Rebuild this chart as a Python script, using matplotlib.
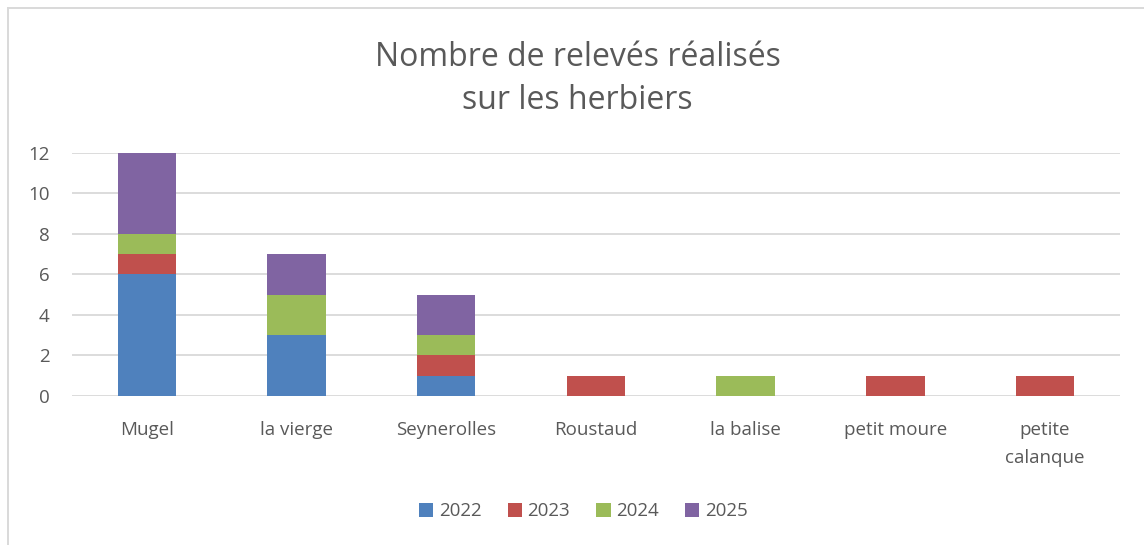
import numpy as np
import matplotlib.pyplot as plt

plt.rcParams['font.family'] = ['Open Sans', 'DejaVu Sans']

# data
sites = ['Mugel', 'la vierge', 'Seynerolles', 'Roustaud', 'la balise', 'petit moure', 'petite\ncalanque']
years = ['2022', '2023', '2024', '2025']
v2022 = [6, 3, 1, 0, 0, 0, 0]
v2023 = [1, 0, 1, 1, 0, 1, 1]
v2024 = [1, 2, 1, 0, 1, 0, 0]
v2025 = [4, 2, 2, 0, 0, 0, 0]
colors = ['#4F81BD', '#C0504D', '#9BBB59', '#8064A2']

grey = '#595959'

fig = plt.figure(figsize=(11.44, 5.45), dpi=100)
ax = fig.add_axes([0.0629, 0.2734, 0.9161, 0.4459])

x = np.arange(len(sites))
bottom = np.zeros(len(sites))
for year, vals, c in zip(years, [v2022, v2023, v2024, v2025], colors):
    ax.bar(x, vals, width=0.39, bottom=bottom, color=c, label=year, zorder=3)
    bottom += np.array(vals)

ax.set_xlim(-0.5, len(sites) - 0.5)
ax.set_ylim(0, 12)
ax.set_yticks(range(0, 13, 2))
ax.set_xticks(x)
ax.set_xticklabels(sites, linespacing=1.75)
ax.tick_params(axis='both', length=0, labelsize=13.5, colors=grey)
ax.tick_params(axis='x', pad=18)
ax.tick_params(axis='y', pad=16)
ax.grid(axis='y', color='#D9D9D9', linewidth=1.3, zorder=0)
for s in ax.spines.values():
    s.set_visible(False)

fig.text(0.505, 0.855, 'Nombre de relevés réalisés\nsur les herbiers', ha='center', va='center',
         fontsize=23, color=grey, linespacing=1.42)

fig.legend(loc='center', bbox_to_anchor=(0.51, 0.062), ncol=4, frameon=False,
           fontsize=13.5, labelcolor=grey, handlelength=0.75, handleheight=0.75,
           handletextpad=0.3, columnspacing=1.4)

# light frame lines (left and top edge of the chart border)
fig.add_artist(plt.Line2D([0.0066, 0.0066], [0.0, 0.985], color='#D9D9D9', linewidth=1.4))
fig.add_artist(plt.Line2D([0.0066, 1.0], [0.985, 0.985], color='#D9D9D9', linewidth=1.4))

fig.savefig('out.png', dpi=100)
